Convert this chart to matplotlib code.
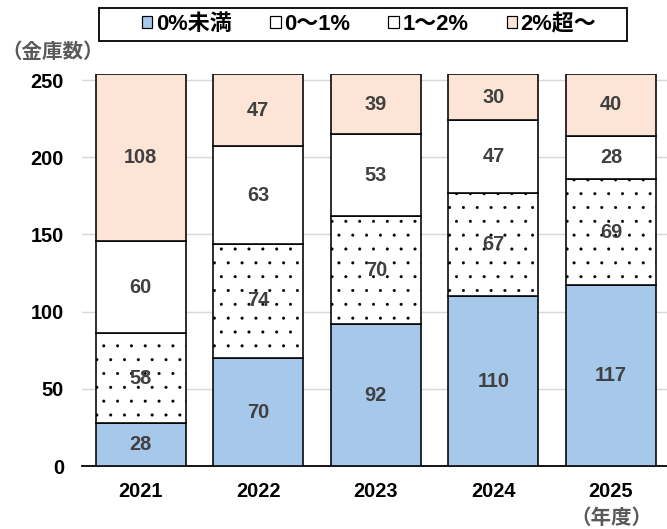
import numpy as np
import matplotlib
matplotlib.use('Agg')
import matplotlib.pyplot as plt
from matplotlib.patches import Patch, Rectangle

years = ['2021', '2022', '2023', '2024', '2025']
under0 = [28, 70, 92, 110, 117]
r0_1 = [58, 74, 70, 67, 69]
r1_2 = [60, 63, 53, 47, 28]
over2 = [108, 47, 39, 30, 40]
series_names = ['0%未満', '0～1%', '1～2%', '2%超～']

DPI = 83.375
def px(p):
    return p * 72.0 / DPI

fam = ['Liberation Sans', 'Noto Sans CJK JP']
plt.rcParams['font.family'] = fam
plt.rcParams['hatch.color'] = '#666666'
plt.rcParams['hatch.linewidth'] = 0.2

fig = plt.figure(figsize=(667.2 / DPI, 529.2 / DPI), dpi=DPI)
ax = fig.add_axes([82 / 667, 1 - 466 / 529, 587.5 / 667, (466 - 74) / 529])

x = np.arange(len(years))
w = 0.766
series = [under0, r0_1, r1_2, over2]
colors = ['#A6C8EA', 'white', 'white', '#FCE4D6']
hatches = [None, '.', None, None]
bottom = np.zeros(len(years))
for vals, c, h in zip(series, colors, hatches):
    ax.bar(x, vals, w, bottom=bottom, color=c, edgecolor='black',
           linewidth=px(1.6), hatch=h, zorder=3)
    for xi, b, v in zip(x, bottom, vals):
        ax.text(xi, b + v / 2, str(v), ha='center', va='center',
                fontsize=px(20), fontweight='bold', color='#404040', zorder=4)
    bottom += np.array(vals)

ax.set_xlim(-0.5, len(years) - 0.5)
ax.set_ylim(0, 254)
ax.set_yticks([0, 50, 100, 150, 200, 250])
ax.yaxis.grid(True, color='#D9D9D9', linewidth=px(1.5), zorder=0)
ax.set_axisbelow(True)
for s in ['top', 'right', 'left']:
    ax.spines[s].set_visible(False)
ax.spines['bottom'].set_linewidth(px(1.8))
ax.tick_params(axis='both', length=0, labelsize=px(20))
ax.tick_params(axis='y', pad=px(18))
ax.tick_params(axis='x', pad=px(16))
ax.set_xticks(x)
ax.set_xticklabels(years, fontweight='bold')
for t in ax.get_yticklabels():
    t.set_fontweight('bold')

fig.text(53 / 667, 1 - 52 / 529, '（金庫数）', fontsize=px(20.5), fontweight='bold',
         color='#595959', va='center', ha='center')
fig.text(611 / 667, 1 - 518 / 529, '（年度）', fontsize=px(20.5), fontweight='bold',
         color='#595959', va='center', ha='center')

# legend frame
fig.patches.append(Rectangle((99 / 667, 1 - 41 / 529), 528 / 667, 33 / 529,
                             transform=fig.transFigure, facecolor='white',
                             edgecolor='black', linewidth=px(1.8)))
handles = [Patch(facecolor=c, edgecolor='black', linewidth=px(1.2)) for c in colors]
leg = fig.legend(handles, series_names, ncol=4, loc='center',
                 bbox_to_anchor=(369 / 667, 1 - 24.5 / 529), frameon=False,
                 handlelength=0.48, handleheight=0.48, handletextpad=0.15,
                 columnspacing=1.75, borderpad=0.2,
                 prop={'size': px(22), 'weight': 'bold', 'family': fam})

fig.savefig('out.png', dpi=DPI)
